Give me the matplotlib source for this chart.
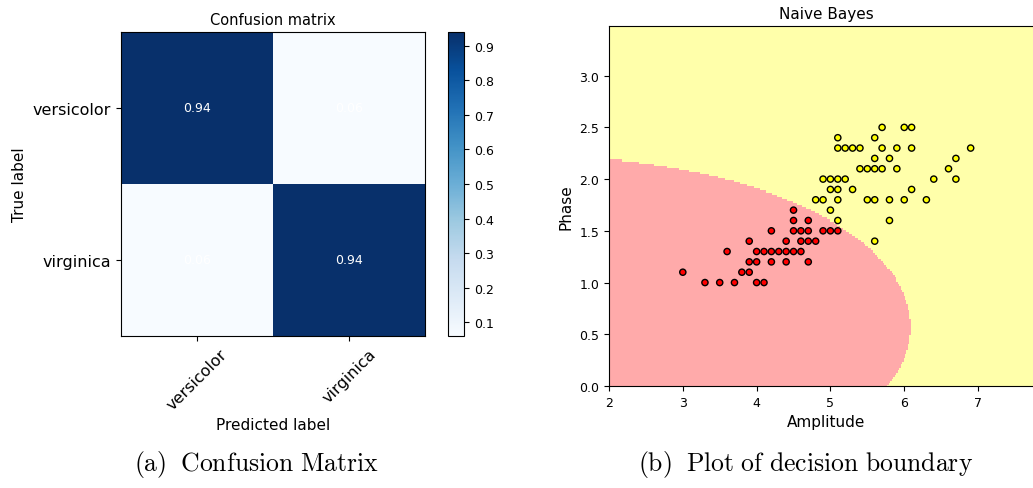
import numpy as np
import matplotlib
matplotlib.use("Agg")
import matplotlib.pyplot as plt
from matplotlib.colors import ListedColormap

# ===== データ
class_names = ["versicolor", "virginica"]
conf_matrix = [[0.94, 0.06],
               [0.06, 0.94]]

# versicolor と予測された点 (Amplitude, Phase)
versicolor_amp = [3.0, 3.3, 3.5, 3.7, 4.0, 4.1, 3.8, 3.9,
                  3.9, 4.0, 4.2, 4.4, 4.7,
                  3.6, 4.0, 4.1, 4.2, 4.3, 4.4, 4.5, 4.6,
                  3.9, 4.4, 4.6, 4.7, 4.8,
                  4.2, 4.5, 4.6, 4.7, 4.9, 5.0, 5.1,
                  4.5, 4.7, 4.5]
versicolor_phase = [1.1, 1.0, 1.0, 1.0, 1.0, 1.0, 1.1, 1.1,
                    1.2, 1.2, 1.2, 1.2, 1.2,
                    1.3, 1.3, 1.3, 1.3, 1.3, 1.3, 1.3, 1.3,
                    1.4, 1.4, 1.4, 1.4, 1.4,
                    1.5, 1.5, 1.5, 1.5, 1.5, 1.5, 1.5,
                    1.6, 1.6, 1.7]

# virginica と予測された点 (Amplitude, Phase)
virginica_amp = [5.7, 6.0, 6.1,
                 5.1, 5.6,
                 5.1, 5.2, 5.3, 5.4, 5.7, 5.9, 6.1, 6.9,
                 5.6, 5.8, 6.7,
                 5.4, 5.5, 5.6, 5.7, 5.9, 6.6,
                 4.9, 5.0, 5.1, 5.2, 6.4, 6.7,
                 5.0, 5.1, 5.3, 6.1,
                 4.8, 4.9, 5.1, 5.5, 5.6, 5.8, 6.0, 6.3,
                 5.0, 5.1, 5.8, 5.6]
virginica_phase = [2.5, 2.5, 2.5,
                   2.4, 2.4,
                   2.3, 2.3, 2.3, 2.3, 2.3, 2.3, 2.3, 2.3,
                   2.2, 2.2, 2.2,
                   2.1, 2.1, 2.1, 2.1, 2.1, 2.1,
                   2.0, 2.0, 2.0, 2.0, 2.0, 2.0,
                   1.9, 1.9, 1.9, 1.9,
                   1.8, 1.8, 1.8, 1.8, 1.8, 1.8, 1.8, 1.8,
                   1.7, 1.6, 1.6, 1.4]

# ガウシアンナイーブベイズの推定パラメータ (クラスごとの平均・分散)
nb_means = [[4.26, 1.326], [5.552, 2.026]]
nb_vars = [[0.212, 0.0383], [0.2985, 0.0739]]
nb_priors = [0.5, 0.5]

W, H = 1033, 489


def px(left, top, width, height):
    """ピクセル指定からfigure座標へ"""
    return [left / W, 1 - (top + height) / H, width / W, height / H]


def nb_predict(grid):
    """ガウシアンナイーブベイズでの予測"""
    scores = []
    for mu, var, prior in zip(nb_means, nb_vars, nb_priors):
        mu = np.array(mu)
        var = np.array(var)
        ll = -0.5 * np.sum(np.log(2 * np.pi * var)) \
            - 0.5 * np.sum((grid - mu) ** 2 / var, axis=1)
        scores.append(np.log(prior) + ll)
    return np.argmax(np.array(scores), axis=0)


def main():
    plt.rcParams["mathtext.fontset"] = "cm"
    fig = plt.figure(figsize=(W / 100, H / 100), dpi=100)

    # ===== 混同行列
    ax1 = fig.add_axes(px(121, 33, 304, 304))
    cm = np.array(conf_matrix)
    im = ax1.imshow(cm, interpolation="nearest", cmap=plt.cm.Blues)
    ax1.set_title("Confusion matrix", fontsize=10.5)
    ticks = np.arange(len(class_names))
    ax1.set_xticks(ticks)
    ax1.set_xticklabels(class_names, rotation=45, fontsize=11.5)
    ax1.set_yticks(ticks)
    ax1.set_yticklabels(class_names, fontsize=11.5)
    for i in range(cm.shape[0]):
        for j in range(cm.shape[1]):
            ax1.text(j, i, format(cm[i, j], ".2f"), ha="center", va="center",
                     color="white", fontsize=9)
    ax1.set_ylabel("True label", fontsize=11)
    ax1.set_xlabel("Predicted label", fontsize=11)
    cax = fig.add_axes(px(448, 33, 16, 304))
    cb = fig.colorbar(im, cax=cax)
    cb.ax.tick_params(labelsize=9)

    # ===== 決定境界
    ax2 = fig.add_axes(px(609, 27, 434, 360))
    X = np.vstack([np.column_stack([versicolor_amp, versicolor_phase]),
                   np.column_stack([virginica_amp, virginica_phase])])
    y = np.array([0] * len(versicolor_amp) + [1] * len(virginica_amp))
    x_min, x_max = X[:, 0].min() - 1, X[:, 0].max() + 1
    y_min, y_max = X[:, 1].min() - 1, X[:, 1].max() + 1
    h = 0.02
    xx, yy = np.meshgrid(np.arange(x_min, x_max, h), np.arange(y_min, y_max, h))
    Z = nb_predict(np.c_[xx.ravel(), yy.ravel()]).reshape(xx.shape)
    cmap_light = ListedColormap(["#FFAAAA", "#FFFFAA"])
    cmap_bold = ListedColormap(["#FF0000", "#FFFF00"])
    ax2.pcolormesh(xx, yy, Z, cmap=cmap_light, shading="auto")
    ax2.scatter(X[:, 0], X[:, 1], c=y, cmap=cmap_bold, edgecolor="k", s=20)
    ax2.set_xlim(xx.min(), xx.max())
    ax2.set_ylim(yy.min(), yy.max())
    ax2.set_title("Naive Bayes", fontsize=11)
    ax2.set_xlabel("Amplitude", fontsize=11)
    ax2.set_ylabel("Phase", fontsize=11)
    ax2.tick_params(labelsize=9)

    # ===== キャプション
    fig.text(256 / W, 1 - 465 / H, r"$\mathrm{(a)\;\ Confusion\ Matrix}$",
             ha="center", va="center", fontsize=18.5)
    fig.text(806 / W, 1 - 465 / H, r"$\mathrm{(b)\;\ Plot\ of\ decision\ boundary}$",
             ha="center", va="center", fontsize=18.5)

    fig.savefig("out.png", dpi=100)


if __name__ == "__main__":
    main()
